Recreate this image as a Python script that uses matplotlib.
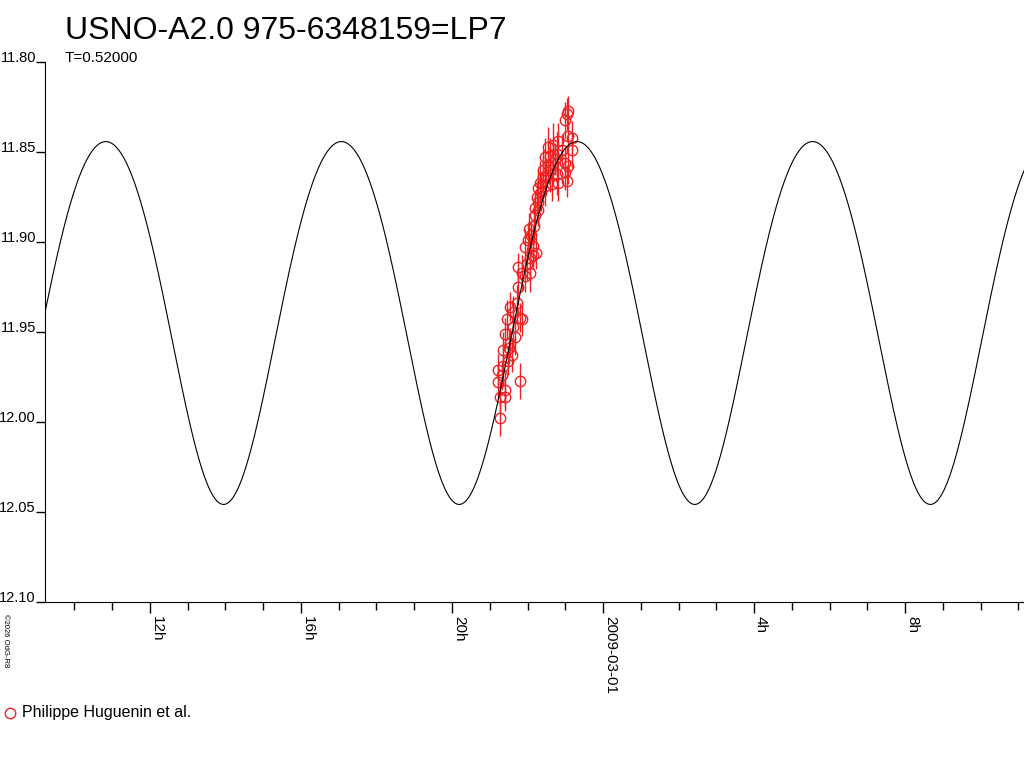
import numpy as np
from matplotlib import pyplot as plt

plt.rcParams['font.family'] = ['Liberation Sans', 'DejaVu Sans']

# observations: hours after 2009-02-28 00:00 UT, magnitude, error
obs_hours = [
    21.27, 21.27, 21.40, 21.40, 21.22, 21.32, 21.80, 21.22, 21.35, 21.48,
    21.59, 21.35, 21.54, 21.40, 21.62, 21.46, 21.85, 21.54, 21.72, 21.62,
    21.80, 21.67, 21.51,
    21.75, 21.93, 22.07, 21.75, 21.85, 21.99, 22.07, 22.15, 21.93, 22.23,
    22.15, 22.01, 22.09, 22.04, 22.17, 22.20, 22.28,
    22.20, 22.28, 22.25, 22.46, 22.28, 22.65, 22.33, 22.81, 22.41, 23.05,
    22.78, 22.99, 22.41, 22.54, 22.68, 23.07, 22.99, 22.46, 22.60, 22.78,
    22.91, 23.18, 22.54, 22.68, 22.81, 23.18, 23.07, 22.99, 23.05, 23.07,
    22.36, 22.49, 22.60, 22.73,
]
obs_mag = [
    11.998, 11.986, 11.986, 11.982, 11.978, 11.974, 11.977, 11.971, 11.969, 11.966,
    11.963, 11.960, 11.956, 11.951, 11.947, 11.943, 11.943, 11.936, 11.934, 11.939,
    11.942, 11.953, 11.959,
    11.925, 11.919, 11.917, 11.914, 11.917, 11.912, 11.909, 11.907, 11.903, 11.906,
    11.902, 11.899, 11.896, 11.893, 11.891, 11.885, 11.882,
    11.881, 11.878, 11.875, 11.869, 11.870, 11.868, 11.867, 11.867, 11.864, 11.866,
    11.862, 11.861, 11.860, 11.857, 11.856, 11.858, 11.856, 11.853, 11.852, 11.851,
    11.849, 11.849, 11.847, 11.846, 11.844, 11.842, 11.841, 11.832, 11.829, 11.827,
    11.872, 11.864, 11.860, 11.854,
]
obs_err = [
    0.010, 0.009, 0.008, 0.010, 0.009, 0.008, 0.010, 0.009, 0.011, 0.008,
    0.009, 0.010, 0.008, 0.009, 0.010, 0.011, 0.009, 0.008, 0.010, 0.009,
    0.008, 0.010, 0.009,
    0.010, 0.009, 0.011, 0.008, 0.010, 0.009, 0.012, 0.008, 0.010, 0.009,
    0.011, 0.010, 0.008, 0.009, 0.010, 0.011, 0.009,
    0.010, 0.012, 0.009, 0.011, 0.010, 0.009, 0.012, 0.010, 0.011, 0.009,
    0.012, 0.010, 0.011, 0.009, 0.012, 0.010, 0.008, 0.011, 0.010, 0.012,
    0.009, 0.010, 0.011, 0.012, 0.010, 0.009, 0.008, 0.010, 0.009, 0.008,
    0.011, 0.010, 0.012, 0.009,
]

# model curve (double wave of period T, with a small harmonic)
period_days = 0.52000
mean_mag = 11.9395
amp1 = 0.1008
amp2 = 0.0055
max_epoch_hours = 23.31  # a light maximum, hours after 2009-02-28

tick_hours = [12, 16, 20, 24, 28, 32]
tick_labels = ['12h', '16h', '20h', '2009-03-01', '4h', '8h']
mag_ticks = [11.80, 11.85, 11.90, 11.95, 12.00, 12.05, 12.10]

fig = plt.figure(figsize=(10.24, 7.68), dpi=100)
ax = fig.add_axes([45 / 1024, 166 / 768, 979 / 1024, 540 / 768])

x_lo, x_hi = 9.22, 35.15
t = np.linspace(x_lo, x_hi, 2000)
half_p = period_days * 24 / 2
phi = 2 * np.pi * (t - max_epoch_hours) / half_p
model = mean_mag - amp1 * np.cos(phi) + amp2 * np.cos(2 * phi)

ax.errorbar(obs_hours, obs_mag, yerr=obs_err, fmt='o', ms=7.5, mfc='none',
            mec='#ee2222', mew=1, ecolor='#ee2222', elinewidth=1, capsize=0,
            zorder=2)
ax.plot(t, model, color='black', lw=0.8, zorder=3)

ax.set_xlim(x_lo, x_hi)
ax.set_ylim(12.10, 11.80)

ax.spines['top'].set_visible(False)
ax.spines['right'].set_visible(False)

ax.set_yticks(mag_ticks)
ax.set_yticklabels(['%.2f' % m for m in mag_ticks])
ax.tick_params(axis='y', length=6.5, width=1, pad=0, labelsize=10.5)
for lab in ax.get_yticklabels():
    lab.set_verticalalignment('baseline')

ax.set_xticks(tick_hours)
ax.set_xticklabels(tick_labels, rotation=270, ha='left', va='top')
ax.set_xticks(range(10, 36), minor=True)
ax.tick_params(axis='x', which='major', length=8, width=1, pad=2, labelsize=11)
ax.tick_params(axis='x', which='minor', length=5.8, width=1)

fig.text(65 / 1024, 1 - 31 / 768, 'USNO-A2.0 975-6348159=LP7', fontsize=23,
         ha='left', va='center')
fig.text(65 / 1024, 1 - 58 / 768, 'T=0.52000', fontsize=11, ha='left', va='center')
fig.text(2 / 1024, 1 - 614 / 768, '\u00a92026 OdG-R8', fontsize=5.5, rotation=270,
         ha='left', va='top')

# legend drawn like the original, below the axis labels
fig.lines.append(plt.Line2D([10 / 1024], [1 - 713 / 768], marker='o', ms=7.5,
                            mfc='none', mec='#ee2222', mew=1,
                            transform=fig.transFigure))
fig.text(22 / 1024, 1 - 713 / 768, 'Philippe Huguenin et al.', fontsize=11.5,
         ha='left', va='center')

plt.savefig('out.png', dpi=100)
